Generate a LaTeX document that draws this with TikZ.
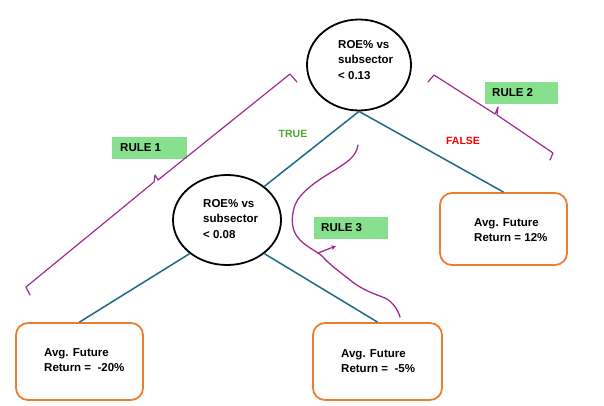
\documentclass[tikz,border=0pt]{standalone}
\usepackage{fontspec}
\setmainfont{Liberation Sans}
\usetikzlibrary{shapes.geometric,arrows.meta}
\definecolor{teal1}{RGB}{31,105,135}
\definecolor{orange1}{RGB}{237,125,49}
\definecolor{green1}{RGB}{134,224,142}
\definecolor{truegreen}{RGB}{78,167,46}
\definecolor{magenta1}{RGB}{160,43,147}
\tikzset{
  splitnode/.style={ellipse, draw=black, line width=1.8pt, inner sep=0pt},
  leafbox/.style={draw=orange1, line width=1.8pt, rounded corners=12pt, minimum width=127pt, inner sep=0pt},
  txt/.style={font=\bfseries\fontsize{11.5}{15.5}\selectfont, align=left, anchor=west, inner sep=0pt},
  rulebox/.style={fill=green1, minimum width=75pt, minimum height=22pt, inner sep=0pt},
  ruletxt/.style={font=\bfseries\fontsize{11.5}{12}\selectfont, anchor=west, inner sep=0pt},
  edge/.style={draw=teal1, line width=1.5pt},
  brk/.style={draw=magenta1, line width=1.2pt, line join=round, line cap=round},
  branchlbl/.style={font=\bfseries\fontsize{10.5}{12}\selectfont, inner sep=0pt}
}
\begin{document}
\begin{tikzpicture}[x=1pt,y=-1pt]
\useasboundingbox (0,0) rectangle (604,406);
% split nodes
\node[splitnode, minimum width=104pt, minimum height=91pt] (e1) at (359,65) {};
\node[txt] (t1) at (338,60) {ROE\% vs\\subsector\\< 0.13};
\node[splitnode, minimum width=108pt, minimum height=90pt] (e2) at (227,220) {};
\node[txt] (t2) at (203,219) {ROE\% vs\\subsector\\< 0.08};
% leaves
\node[leafbox, minimum height=72pt] (rb) at (503.5,229) {};
\node[txt] (rt) at (474,230) {Avg. Future\\Return = 12\%};
\node[leafbox, minimum height=77pt] (lb) at (79.5,361.5) {};
\node[txt] (lt) at (44,360) {Avg. Future\\Return =~~-20\%};
\node[leafbox, minimum height=77pt, minimum width=129pt] (mb) at (377.5,361.5) {};
\node[txt] (mt) at (341,361) {Avg. Future\\Return =~~-5\%};
% edges
\draw[edge] (e1.south) -- (e2.42);
\draw[edge] (e1.south) -- (rb.north);
\draw[edge] (e2.222) -- (lb.north);
\draw[edge] (e2.-42) -- (mb.north);
% branch labels
\node[branchlbl, text=truegreen] (tl) at (293,134) {TRUE};
\node[branchlbl, text=red] (fl) at (463,141) {FALSE};
% rule boxes
\node[rulebox, anchor=north west] (r1) at (112,137) {};
\node[ruletxt] (r1t) at (120,147.5) {RULE 1};
\node[rulebox, anchor=north west, minimum width=73pt] (r2) at (485,82) {};
\node[ruletxt] (r2t) at (492,92.5) {RULE 2};
\node[rulebox, anchor=north west, minimum width=74pt] (r3) at (314,217) {};
\node[ruletxt] (r3t) at (321,228) {RULE 3};
% brackets
\draw[brk] (30,295) -- (26,287) -- (154,182) -- (155,175) -- (158,180) -- (290,74) -- (297,82);
\draw[brk] (428,82) -- (434,75) -- (495,114) -- (498,107) -- (497,115) -- (553,153) -- (550,160);
% hand drawn curve
\coordinate (c0) at (358,145);
\coordinate (c9) at (400,317);
\draw[brk, line width=1.3pt] (c0) .. controls (356,158) and (345,163) .. (335,170)
  .. controls (318,180) and (300,192) .. (295,205)
  .. controls (290,220) and (292,232) .. (300,240)
  .. controls (308,248) and (318,252) .. (322,256)
  .. controls (330,265) and (340,272) .. (350,280)
  .. controls (362,290) and (375,294) .. (385,298)
  .. controls (393,302) and (398,310) .. (c9);
\coordinate (a0) at (318,253);
\coordinate (a1) at (336,246);
\draw[brk, line width=1.3pt, -{Stealth[length=5pt,width=5pt]}] (a0) -- (a1);
\end{tikzpicture}
\end{document}
